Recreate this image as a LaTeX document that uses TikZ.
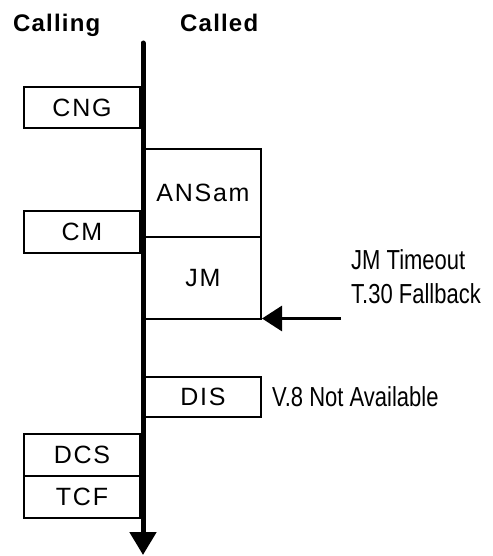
\documentclass[tikz,border=0pt]{standalone}
\usepackage{fontspec}
\setmainfont{Liberation Sans}
\newfontfamily\boxfont[LetterSpace=7]{Liberation Sans}
\newfontfamily\sidefont[FakeStretch=0.8]{Liberation Sans}
\newfontfamily\headfont[LetterSpace=5]{Liberation Sans}
\usetikzlibrary{arrows.meta}
\tikzset{
  msg/.style={draw, line width=2pt, minimum width=116pt, inner sep=0pt, font=\boxfont\fontsize{25}{28}\selectfont},
  side/.style={anchor=base west, inner sep=0pt, font=\sidefont\fontsize{27.5}{30}\selectfont},
  head/.style={anchor=base west, inner sep=0pt, font=\headfont\bfseries\fontsize{24}{28}\selectfont},
}
\begin{document}
\begin{tikzpicture}[x=1pt,y=-1pt]
\useasboundingbox (0,0) rectangle (492,556);
\node[head] (calling) at (13,32) {Calling};
\node[head] (called) at (180,32) {Called};
\coordinate (top) at (143,43);
\coordinate (bot) at (143,555);
\draw[line width=5pt, line cap=round, -{Triangle[width=26pt,length=23pt]}] (top) -- (bot);
\node[msg, minimum height=41pt] (cng) at (82,107.5) {CNG};
\node[msg, minimum height=88pt] (ansam) at (203,193) {ANSam};
\node[msg, minimum height=82pt] (jm) at (203,278) {JM};
\node[msg, minimum height=42pt] (cm) at (82,232) {CM};
\node[msg, minimum height=40pt] (dis) at (203,397) {DIS};
\node[msg, minimum height=42pt] (dcs) at (82,455) {DCS};
\node[msg, minimum height=42pt] (tcf) at (82,497) {TCF};
\node[side] (timeout) at (351,269) {JM Timeout};
\node[side] (fallback) at (351,303) {T.30 Fallback};
\node[side] (notavail) at (272,406) {V.8 Not Available};
\coordinate (arrstart) at (341,318.5);
\draw[line width=3pt, -{Triangle[width=25pt,length=20pt]}] (arrstart) -- (jm.south east |- arrstart);
\end{tikzpicture}
\end{document}
